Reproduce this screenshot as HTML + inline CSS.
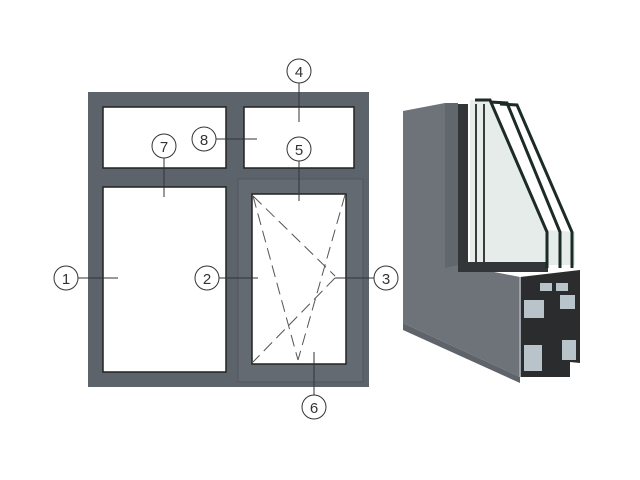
<!DOCTYPE html>
<html><head><style>
html,body{margin:0;padding:0;background:#fff;width:640px;height:480px;overflow:hidden}
</style></head><body>
<svg width="640" height="480" viewBox="0 0 640 480" xmlns="http://www.w3.org/2000/svg" font-family="Liberation Sans, sans-serif">
<rect x="88" y="92" width="281" height="295" fill="#5d636b"/>
<rect x="103" y="107" width="123" height="61" fill="#fff" stroke="#222" stroke-width="1.5"/>
<rect x="244" y="107" width="110" height="61" fill="#fff" stroke="#222" stroke-width="1.5"/>
<rect x="103" y="187" width="123" height="185" fill="#fff" stroke="#222" stroke-width="1.5"/>
<rect x="238" y="179" width="125" height="203" fill="#646a72" stroke="#52575e" stroke-width="1"/>
<rect x="252" y="194" width="94" height="170" fill="#fff" stroke="#222" stroke-width="1.5"/>
<g stroke="#555" stroke-width="1" stroke-dasharray="12,6" fill="none">
<line x1="253" y1="196" x2="298" y2="360"/>
<line x1="253" y1="196" x2="335" y2="276"/>
<line x1="335" y1="278" x2="253" y2="362"/>
<line x1="345" y1="195" x2="298" y2="360"/>
</g>
<g stroke="#333" stroke-width="1">
<line x1="299" y1="83" x2="299" y2="122"/>
<line x1="216" y1="139" x2="257" y2="139"/>
<line x1="164" y1="158" x2="164" y2="197"/>
<line x1="299" y1="161" x2="299" y2="201"/>
<line x1="78" y1="278" x2="118" y2="278"/>
<line x1="219" y1="278" x2="258" y2="278"/>
<line x1="335" y1="278" x2="374" y2="278"/>
<line x1="314" y1="352" x2="314" y2="395"/>
</g>
<g fill="#fff" stroke="#333" stroke-width="1">
<circle cx="299" cy="71" r="12"/><circle cx="204" cy="139" r="12"/>
<circle cx="164" cy="146" r="12"/><circle cx="299" cy="149" r="12"/>
<circle cx="66" cy="278" r="12"/><circle cx="207" cy="278" r="12"/>
<circle cx="386" cy="278" r="12"/><circle cx="314" cy="407" r="12"/>
</g>
<g font-size="15" fill="#333" text-anchor="middle">
<text x="299" y="77">4</text><text x="204" y="145">8</text>
<text x="164" y="152">7</text><text x="299" y="155">5</text>
<text x="66" y="284">1</text><text x="207" y="284">2</text>
<text x="386" y="284">3</text><text x="314" y="413">6</text>
</g>
<polygon points="470,100 490,100 547,230 575,232 575,265 470,265" fill="#e6ecea"/>
<polygon points="403,111 445,103 458,103 458,265 520,277 520,377 403,323" fill="#6e737a"/>
<polygon points="445,103 458,103 458,265 445,268" fill="#62676e"/>
<polygon points="403,323 520,377 520,383 403,330" fill="#5f646b"/>
<rect x="458" y="104" width="10" height="162" fill="#333638"/>
<rect x="458" y="262" width="90" height="10" fill="#333638"/>
<line x1="476" y1="104" x2="476" y2="262" stroke="#3a3d3d" stroke-width="2"/>
<line x1="484" y1="104" x2="484" y2="262" stroke="#3a3d3d" stroke-width="2"/>
<g stroke="#1c2b26" stroke-width="3" fill="none">
<polyline points="475,100 490,100 547,232 547,268"/>
<polyline points="490,102 507,103 560,232 560,268"/>
<polyline points="500,104 517,105 572,232 572,268"/>
</g>
<polygon points="520,277 580,270 580,363 570,362 570,377 520,377" fill="#2a2c2e"/>
<g fill="#b9c4ca">
<rect x="524" y="300" width="20" height="18"/>
<rect x="524" y="345" width="18" height="26"/>
<rect x="560" y="295" width="15" height="14"/>
<rect x="562" y="340" width="14" height="20"/>
<rect x="540" y="283" width="12" height="8"/>
<rect x="556" y="283" width="12" height="8"/>
</g>
<line x1="520" y1="277" x2="520" y2="377" stroke="#9aa0a6" stroke-width="2"/>
</svg>
</body></html>
